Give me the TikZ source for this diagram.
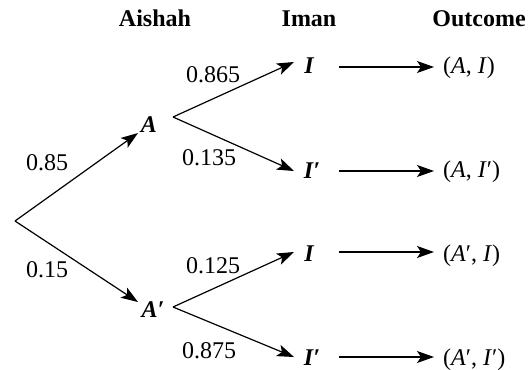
\documentclass[tikz,border=0pt]{standalone}
\usepackage{fontspec}
\setmainfont{Liberation Serif}
\usetikzlibrary{arrows.meta}
\begin{document}
\begin{tikzpicture}[x=1pt,y=-1pt,
  font=\fontsize{24}{28}\selectfont,
  every node/.style={inner sep=0pt, anchor=base},
  header/.style={font=\fontsize{24}{28}\selectfont\bfseries},
  event/.style={font=\fontsize{24}{28}\selectfont\bfseries\itshape},
  prob/.style={},
  outcome/.style={anchor=base west},
  branch/.style={line width=1.2pt, -{Stealth[length=17pt,width=12pt,inset=4pt]}}]
\useasboundingbox (0,0) rectangle (532,369);

% column headers
\node[header] (hA) at (155,27) {Aishah};
\node[header] (hI) at (309,27) {Iman};
\node[header] (hO) at (479,27) {Outcome};

% branch points and arrow tips
\coordinate (root) at (15,221);
\coordinate (Ain)  at (138,133);
\coordinate (Aout) at (173,117);
\coordinate (Bin)  at (138,302);
\coordinate (Bout) at (173,307);
\coordinate (I1in) at (294,62);
\coordinate (I2in) at (294,171);
\coordinate (I3in) at (294,252);
\coordinate (I4in) at (294,357);

% events
\node[event] (A)  at (149,132) {A};
\node[event] (Ap) at (153,317) {A′};
\node[event] (I1) at (309,73.5) {I};
\node[event] (I2) at (312,178) {I′};
\node[event] (I3) at (309,261) {I};
\node[event] (I4) at (312,365) {I′};

% probabilities
\node[prob] (p1) at (47,170) {0.85};
\node[prob] (p2) at (47,277) {0.15};
\node[prob] (p3) at (213,82) {0.865};
\node[prob] (p4) at (209,165) {0.135};
\node[prob] (p5) at (213,273) {0.125};
\node[prob] (p6) at (209,358) {0.875};

% outcomes
\node[outcome] (o1) at (443,74)  {(\textit{A}, \textit{I\/})};
\node[outcome] (o2) at (443,177.5) {(\textit{A}, \textit{I\/}′)};
\node[outcome] (o3) at (443,261) {(\textit{A}′, \textit{I\/})};
\node[outcome] (o4) at (443,365) {(\textit{A}′, \textit{I\/}′)};

\coordinate (s1) at (339,67);  \coordinate (e1) at (434,67);
\coordinate (s2) at (339,171); \coordinate (e2) at (434,171);
\coordinate (s3) at (339,252); \coordinate (e3) at (434,252);
\coordinate (s4) at (339,357); \coordinate (e4) at (434,357);

% tree branches
\draw[branch] (root) -- (Ain);
\draw[branch] (root) -- (Bin);
\draw[branch] (Aout) -- (I1in);
\draw[branch] (Aout) -- (I2in);
\draw[branch] (Bout) -- (I3in);
\draw[branch] (Bout) -- (I4in);

% outcome arrows
\draw[branch] (s1) -- (e1);
\draw[branch] (s2) -- (e2);
\draw[branch] (s3) -- (e3);
\draw[branch] (s4) -- (e4);
\end{tikzpicture}
\end{document}
